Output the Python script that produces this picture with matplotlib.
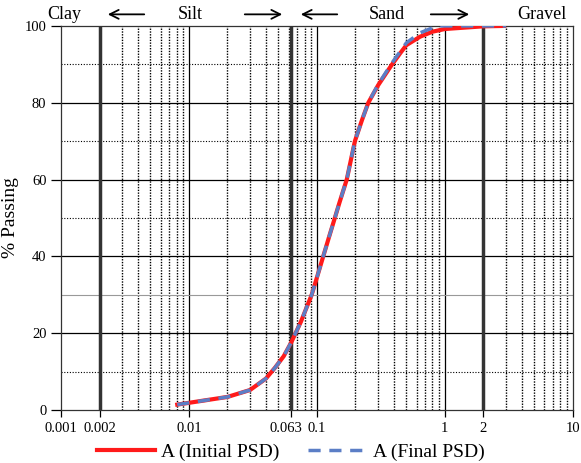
import numpy as np
import matplotlib.pyplot as plt
import matplotlib.transforms as mtransforms
from matplotlib.ticker import FixedLocator, NullFormatter

plt.rcParams['font.family'] = ['Liberation Serif', 'DejaVu Serif']

# Grain size (mm) and % passing
size_initial = [0.0081, 0.02, 0.03, 0.04, 0.047, 0.055, 0.063, 0.075, 0.091,
                0.1, 0.112, 0.125, 0.138, 0.15, 0.171, 0.198, 0.225, 0.252,
                0.3, 0.383, 0.45, 0.5, 0.64, 0.8, 1.0, 2.0, 2.9]
pass_initial = [1.4, 3.4, 5.2, 8.2, 11.0, 14.0, 17.6, 23.0, 30.0,
                34.5, 40.0, 45.3, 50.0, 54.0, 60.0, 70.0, 75.5, 80.0,
                84.5, 89.8, 93.0, 95.0, 97.2, 98.5, 99.2, 99.9, 100.0]
size_final = [0.0081, 0.02, 0.03, 0.04, 0.047, 0.055, 0.063, 0.075, 0.091,
              0.1, 0.112, 0.125, 0.138, 0.15, 0.171, 0.198, 0.225, 0.252,
              0.3, 0.383, 0.45, 0.5, 0.64, 0.8, 0.9, 2.0, 3.0]
pass_final = [1.4, 3.4, 5.2, 8.2, 11.0, 14.0, 17.6, 23.0, 30.0,
              34.5, 40.0, 45.3, 50.0, 54.0, 60.0, 70.0, 75.5, 80.0,
              84.7, 90.2, 93.5, 95.6, 98.2, 99.5, 100.0, 100.0, 100.0]

xticks = [0.001, 0.002, 0.01, 0.063, 0.1, 1, 2, 10]
xtick_labels = ['0.001', '0.002', '0.01', '0.063', '0.1', '1', '2', '10']
boundaries = [0.002, 0.063, 2]

fig = plt.figure(figsize=(5.81, 4.63), dpi=100)
ax = fig.add_axes([0.105, 0.1145, 0.881, 0.8295])
ax.set_xscale('log')
ax.set_xlim(0.001, 10)
ax.set_ylim(0, 100)

# grid
for dec in [0.001, 0.01, 0.1, 1]:
    for m in range(2, 10):
        ax.axvline(dec * m, color='black', lw=1.0, ls=(0, (1, 1)), zorder=1)
for d in [0.01, 0.1, 1]:
    ax.axvline(d, color='black', lw=0.9, zorder=1)
for b in boundaries:
    ax.axvline(b, color='#333333', lw=2.5, zorder=2)
for y in [20, 40, 60, 80]:
    ax.axhline(y, color='black', lw=0.9, zorder=1)
for y in [10, 50, 70, 90]:
    ax.axhline(y, color='black', lw=0.8, ls=(0, (1, 1.5)), zorder=1)
ax.axhline(30, color='#999999', lw=0.8, zorder=1)

ax.plot(size_initial, pass_initial, color='#ff1a1a', lw=3, zorder=3,
        label='A (Initial PSD)')
ax.plot(size_final, pass_final, color='#5b7ec6', lw=2.5, ls=(0, (3.5, 2.5)),
        zorder=4, label='A (Final PSD)')

ax.xaxis.set_major_locator(FixedLocator(xticks))
ax.set_xticklabels(xtick_labels)
ax.xaxis.set_minor_locator(FixedLocator([]))
ax.xaxis.set_minor_formatter(NullFormatter())
ax.set_yticks([0, 20, 40, 60, 80, 100])
ax.tick_params(labelsize=10.5, direction='out', length=5, width=0.9)
ax.tick_params(axis='y', length=7)
ax.set_ylabel('% Passing', fontsize=14, labelpad=4)
for s in ax.spines.values():
    s.set_linewidth(0.9)
    s.set_color('#333333')

# nudge 0.063 label left so it doesn't touch 0.1
shift = mtransforms.ScaledTranslation(-5 / 100, 0, fig.dpi_scale_trans)
lbl = ax.get_xticklabels()[3]
lbl.set_transform(lbl.get_transform() + shift)

# soil class labels
fs = 13
ty = 0.969
fig.text(64 / 581, ty, 'Clay', ha='center', va='center', fontsize=fs)
fig.text(190 / 581, ty, 'Silt', ha='center', va='center', fontsize=fs)
fig.text(387 / 581, ty, 'Sand', ha='center', va='center', fontsize=fs)
fig.text(542 / 581, ty, 'Gravel', ha='center', va='center', fontsize=fs)
arrows = [(147, 105), (242, 285), (340, 298), (428, 472)]
for x0, x1 in arrows:
    fig.add_artist(plt.Annotation('', xy=(x1 / 581, ty), xytext=(x0 / 581, ty),
                                  xycoords='figure fraction',
                                  arrowprops=dict(arrowstyle='->', lw=1.3,
                                                  color='black',
                                                  mutation_scale=16)))

fig.legend(loc='center', bbox_to_anchor=(0.5, 11 / 463), ncol=2,
           frameon=False, fontsize=14, handlelength=3, columnspacing=1.5,
           handletextpad=0.3, borderpad=0)

fig.savefig('out.png', dpi=100)
